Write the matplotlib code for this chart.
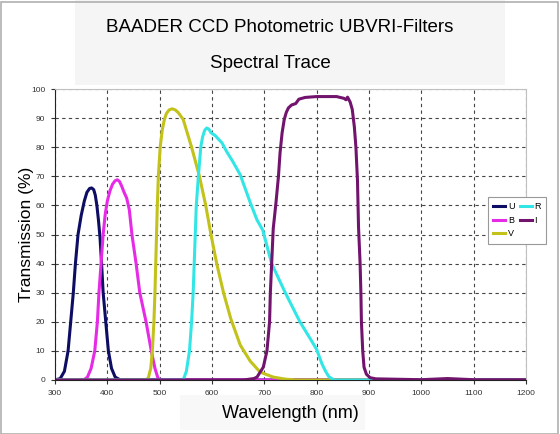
import matplotlib.pyplot as plt
from matplotlib.patches import Rectangle

plt.rcParams['font.family'] = ['Liberation Sans', 'DejaVu Sans']

# Data (wavelength nm, transmission %)
u_wl = [300, 310, 318, 325, 330, 335, 339, 344, 350, 356, 361, 366, 370, 374, 377, 380, 383, 386, 389, 392, 397, 402, 408, 415, 425, 1200]
u_tr = [0, 0.5, 3, 10, 20, 30, 40, 50, 56.5, 61.5, 64.5, 65.8, 66, 65.4, 63.5, 60, 55, 49, 40, 30, 20, 10, 4, 1, 0, 0]

b_wl = [300, 355, 362, 369, 376, 381, 384, 388, 392, 396, 400, 405, 410, 415, 419, 423, 427, 432, 437, 442, 447, 455, 462, 474, 484, 491, 497, 505, 1200]
b_tr = [0, 0, 1, 4, 10, 20, 30, 40, 50, 57, 61.5, 65, 67.3, 68.5, 68.8, 68.3, 66.8, 64.5, 62.5, 58.5, 50, 40, 30, 20, 10, 4, 0.5, 0, 0]

v_wl = [300, 470, 478, 483, 486, 489, 491, 492.5, 494, 495.5, 497.5, 501, 505, 509, 513, 518, 524, 530, 536, 545, 561, 576, 588, 598, 609, 622, 636, 654, 673, 692, 717, 740, 760, 1200]
v_tr = [0, 0, 0.5, 4, 10, 20, 30, 40, 50, 60, 70, 80, 86, 89.5, 91.6, 92.8, 93.2, 92.8, 91.8, 89.5, 80, 70, 60, 50, 40, 30, 21, 12, 6.5, 2.7, 1, 0.3, 0, 0]

r_wl = [300, 545, 551, 557, 561, 564, 566, 568, 570, 574, 578.5, 582, 586, 590, 594, 598, 606, 619, 628, 640, 654, 673, 686, 697, 714, 740, 768, 790, 800, 810, 817, 823, 833, 1200]
r_tr = [0, 0, 3, 10, 20, 30, 40, 50, 60, 70, 80, 83.5, 85.8, 86.6, 86.2, 85, 84, 81.5, 78.5, 75, 70.5, 61, 55, 51.5, 40, 30, 20, 13.5, 10.5, 5.6, 3, 1.2, 0, 0]

i_wl = [300, 660, 680, 686, 698, 705, 710, 711.5, 714, 717, 722, 727, 730, 734, 738, 742, 746, 752, 760, 766, 778, 800, 838, 852, 856, 859, 864, 868, 872, 875, 878, 880, 883, 884.5, 885.5, 888, 890.5, 895, 902, 913, 1000, 1050, 1100, 1200]
i_tr = [0, 0, 0.5, 1, 4.4, 10, 20, 30, 40, 52, 60.5, 70, 78, 85, 89.5, 92, 93.5, 94.5, 95, 96.5, 97.1, 97.4, 97.4, 96.8, 96.3, 97.2, 95.5, 93, 87, 80, 68.5, 52.5, 40, 30, 20, 10, 4.4, 2, 0.8, 0.4, 0.1, 0.5, 0.1, 0.1]

series = [
    ('U', u_wl, u_tr, '#0d0d63'),
    ('B', b_wl, b_tr, '#e62be6'),
    ('V', v_wl, v_tr, '#c2c21a'),
    ('R', r_wl, r_tr, '#33e6e6'),
    ('I', i_wl, i_tr, '#72146e'),
]

fig = plt.figure(figsize=(5.6, 4.34), dpi=100)
fig.patch.set_facecolor('white')

# light boxes behind title and x label, thin frame round the picture
fig.patches.append(Rectangle((75 / 560, 1 - 85 / 434), 430 / 560, 85 / 434, transform=fig.transFigure,
                             facecolor='#f5f5f5', edgecolor='none', zorder=-5))
fig.patches.append(Rectangle((180 / 560, 1 - 430 / 434), 185 / 560, 35 / 434, transform=fig.transFigure,
                             facecolor='#f8f8f8', edgecolor='none', zorder=-5))
fig.patches.append(Rectangle((0.001, 0.001), 0.995, 0.995, transform=fig.transFigure,
                             facecolor='none', edgecolor='#b0b0b0', linewidth=1.2, zorder=-5))

ax = fig.add_axes([55 / 560, 1 - 380 / 434, 471 / 560, 291 / 434])

for name, wl, tr, col in series:
    ax.plot(wl, tr, color=col, linewidth=2.2, label=name, solid_joinstyle='round')

ax.set_xlim(300, 1200)
ax.set_ylim(0, 100)
ax.set_xticks(range(300, 1201, 100))
ax.set_yticks(range(0, 101, 10))
ax.tick_params(labelsize=6, colors='#333333', length=3, direction='out', pad=4)
ax.grid(True, linestyle=(0, (3, 3)), color='#444444', linewidth=0.8)

ax.spines['left'].set_color('#222222')
ax.spines['bottom'].set_color('#222222')
ax.spines['top'].set_color('#c0c0c0')
ax.spines['right'].set_color('#c0c0c0')

ax.set_xlabel('Wavelength (nm)', fontsize=13, labelpad=6)
ax.set_ylabel('Transmission (%)', fontsize=12.5, labelpad=-2)

fig.text(0.5, 1 - 28 / 434, 'BAADER CCD Photometric UBVRI-Filters', ha='center', va='center', fontsize=13.5)
fig.text(0.482, 1 - 63 / 434, 'Spectral Trace', ha='center', va='center', fontsize=13.5)

leg = ax.legend(ncol=2, loc='upper left', bbox_to_anchor=(488 / 560, 1 - 197 / 434),
                bbox_transform=fig.transFigure, borderaxespad=0, fontsize=6.5, frameon=True,
                fancybox=False, edgecolor='#999999', framealpha=1, handlelength=1.3,
                columnspacing=0.6, handletextpad=0.3, labelspacing=0.5, borderpad=0.6)
leg.get_frame().set_linewidth(0.8)

fig.savefig('out.png', dpi=100)
